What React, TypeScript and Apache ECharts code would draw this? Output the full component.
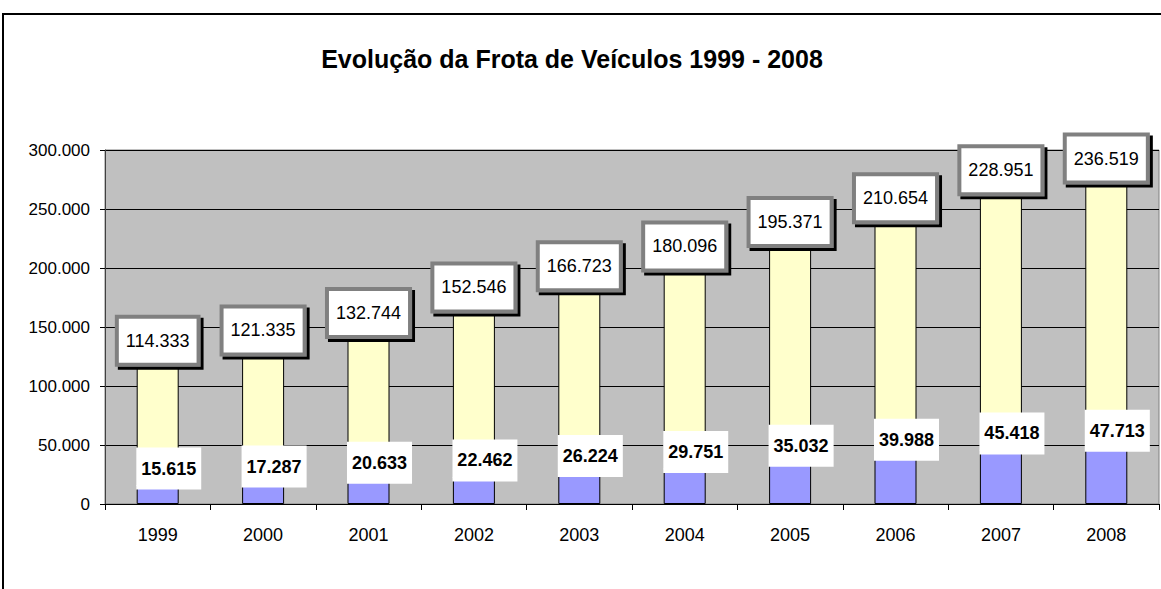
import React, { useEffect, useRef } from "react";
import * as echarts from "echarts";

const years = ["1999", "2000", "2001", "2002", "2003", "2004", "2005", "2006", "2007", "2008"];
const frotaTotal = [114333, 121335, 132744, 152546, 166723, 180096, 195371, 210654, 228951, 236519];
const frotaParcial = [15615, 17287, 20633, 22462, 26224, 29751, 35032, 39988, 45418, 47713];
const titleText = "Evolução da Frota de Veículos 1999 - 2008";

const fmt = (v: number) => String(Math.round(v)).replace(/\B(?=(\d{3})+(?!\d))/g, ".");

export default function App() {
  const ref = useRef<HTMLDivElement>(null);
  useEffect(() => {
    if (!ref.current) return;
    const chart = echarts.init(ref.current, null, { renderer: "svg" });
    const font = "Arial, 'Liberation Sans', sans-serif";
    chart.setOption({
      animation: false,
      backgroundColor: "#ffffff",
      textStyle: { fontFamily: font },
      graphic: [
        {
          type: "rect",
          shape: { x: 3, y: 14, width: 1300, height: 700 },
          style: { fill: "none", stroke: "#000", lineWidth: 2 },
          silent: true,
          z: -10,
        },
        {
          type: "text",
          x: 572,
          y: 59,
          style: {
            text: titleText,
            font: "bold 25px Arial, 'Liberation Sans', sans-serif",
            fill: "#000",
            textAlign: "center",
            textVerticalAlign: "middle",
          },
        },
      ],
      grid: {
        left: 105,
        top: 150,
        right: 2,
        bottom: 85,
        show: true,
        backgroundColor: "#C0C0C0",
        borderColor: "#808080",
        borderWidth: 1,
      },
      xAxis: {
        type: "category",
        data: years,
        boundaryGap: true,
        axisLine: { lineStyle: { color: "#000", width: 1 } },
        axisTick: { show: true, length: 6, lineStyle: { color: "#000" } },
        axisLabel: { color: "#000", fontSize: 18, margin: 22, fontFamily: font },
      },
      yAxis: {
        type: "value",
        min: 0,
        max: 300000,
        interval: 50000,
        axisLine: { show: true, lineStyle: { color: "#404040", width: 1 } },
        axisTick: { show: true, length: 5, lineStyle: { color: "#000" } },
        axisLabel: { color: "#000", fontSize: 17, margin: 15, formatter: (v: number) => fmt(v), fontFamily: font },
        splitLine: { show: true, lineStyle: { color: "#000", width: 1 } },
      },
      series: [
        {
          type: "bar",
          stack: "frota",
          data: frotaParcial,
          barWidth: 42,
          itemStyle: { color: "#9999FF", borderColor: "#000", borderWidth: 1 },
          label: {
            show: true,
            position: "top",
            distance: -4,
            offset: [11, 0],
            formatter: (p: any) => fmt(p.value),
            color: "#000",
            fontSize: 18,
            fontWeight: "bold",
            fontFamily: font,
            lineHeight: 20,
            backgroundColor: "#ffffff",
            padding: [11, 5],
          },
          z: 3,
        },
        {
          type: "bar",
          stack: "frota",
          data: frotaTotal,
          barWidth: 42,
          itemStyle: { color: "#FFFFCC", borderColor: "#000", borderWidth: 1 },
          label: {
            show: true,
            position: "top",
            distance: -12,
            formatter: (p: any) => fmt(p.value),
            color: "#000",
            fontSize: 18,
            fontFamily: font,
            lineHeight: 20,
            backgroundColor: "#ffffff",
            borderColor: "#808080",
            borderWidth: 4,
            padding: [12, 7],
            shadowColor: "#000",
            shadowOffsetX: 3,
            shadowOffsetY: 3,
            shadowBlur: 0,
          },
          z: 2,
        },
      ],
    });
    return () => chart.dispose();
  }, []);
  return (
    <div
      ref={ref}
      style={{ position: "fixed", left: 0, top: 0, width: 1161, height: 589 }}
    />
  );
}
